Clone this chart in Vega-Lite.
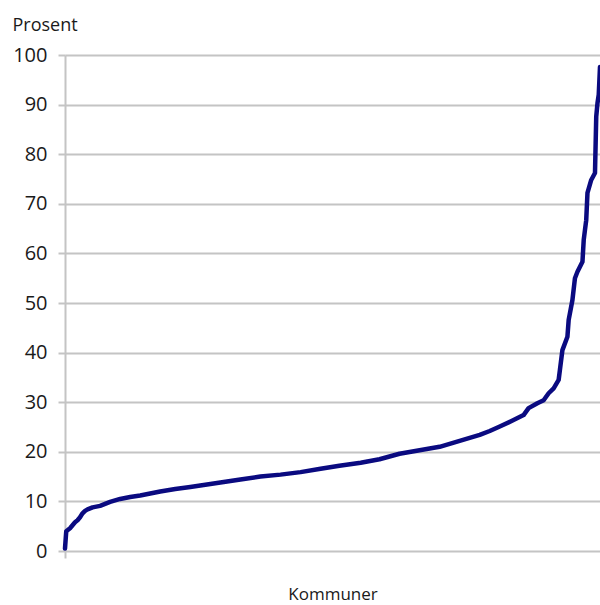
{
  "$schema": "https://vega.github.io/schema/vega-lite/v6.json",
  "autosize": "none",
  "padding": {"left": 65, "top": 55, "right": 0, "bottom": 54},
  "width": 535,
  "height": 496,
  "background": "white",
  "config": {
    "view": {"stroke": null},
    "font": "Open Sans"
  },
  "data": {
    "values": [
      {"rank": 1, "prosent": 0.5},
      {"rank": 2, "prosent": 4.0},
      {"rank": 3, "prosent": 4.2},
      {"rank": 5, "prosent": 4.6},
      {"rank": 7, "prosent": 5.2},
      {"rank": 9, "prosent": 5.8},
      {"rank": 11, "prosent": 6.2},
      {"rank": 13, "prosent": 6.8},
      {"rank": 15, "prosent": 7.6},
      {"rank": 17, "prosent": 8.1},
      {"rank": 19, "prosent": 8.4},
      {"rank": 23, "prosent": 8.8},
      {"rank": 29, "prosent": 9.1},
      {"rank": 37, "prosent": 9.9},
      {"rank": 45, "prosent": 10.5},
      {"rank": 53, "prosent": 10.9},
      {"rank": 61, "prosent": 11.2},
      {"rank": 69, "prosent": 11.6},
      {"rank": 77, "prosent": 12.0},
      {"rank": 89, "prosent": 12.5},
      {"rank": 101, "prosent": 12.9},
      {"rank": 109, "prosent": 13.2},
      {"rank": 125, "prosent": 13.8},
      {"rank": 141, "prosent": 14.4},
      {"rank": 157, "prosent": 15.0},
      {"rank": 173, "prosent": 15.4},
      {"rank": 189, "prosent": 15.9},
      {"rank": 205, "prosent": 16.6},
      {"rank": 220, "prosent": 17.2},
      {"rank": 237, "prosent": 17.8},
      {"rank": 252, "prosent": 18.5},
      {"rank": 268, "prosent": 19.6},
      {"rank": 284, "prosent": 20.3},
      {"rank": 300, "prosent": 21.0},
      {"rank": 316, "prosent": 22.2},
      {"rank": 332, "prosent": 23.4},
      {"rank": 340, "prosent": 24.2},
      {"rank": 348, "prosent": 25.1},
      {"rank": 359, "prosent": 26.4},
      {"rank": 367, "prosent": 27.4},
      {"rank": 371, "prosent": 28.8},
      {"rank": 378, "prosent": 29.8},
      {"rank": 383, "prosent": 30.4},
      {"rank": 387, "prosent": 31.8},
      {"rank": 391, "prosent": 32.8},
      {"rank": 395, "prosent": 34.5},
      {"rank": 396, "prosent": 36.5},
      {"rank": 398, "prosent": 40.5},
      {"rank": 402, "prosent": 43.2},
      {"rank": 403, "prosent": 46.6},
      {"rank": 406, "prosent": 50.6},
      {"rank": 408, "prosent": 55.0},
      {"rank": 410, "prosent": 56.3},
      {"rank": 414, "prosent": 58.3},
      {"rank": 415, "prosent": 62.7},
      {"rank": 416, "prosent": 64.7},
      {"rank": 417, "prosent": 66.7},
      {"rank": 418, "prosent": 72.2},
      {"rank": 421, "prosent": 74.8},
      {"rank": 424, "prosent": 76.2},
      {"rank": 425, "prosent": 87.6},
      {"rank": 426, "prosent": 90.3},
      {"rank": 427, "prosent": 92.0},
      {"rank": 428, "prosent": 97.6}
    ]
  },
  "mark": {"type": "line", "color": "#0a0a80", "strokeWidth": 4.5, "strokeJoin": "round", "strokeCap": "round"},
  "encoding": {
    "x": {
      "field": "rank",
      "type": "quantitative",
      "scale": {"domain": [1, 428], "nice": false, "zero": false},
      "axis": {
        "title": "Kommuner",
        "titleFont": "Open Sans",
        "titleFontSize": 17,
        "titleFontWeight": "normal",
        "titleColor": "#1a1a1a",
        "titlePadding": 27,
        "values": [1],
        "labels": false,
        "grid": false,
        "domain": false,
        "tickColor": "#c4c4c4",
        "tickWidth": 2,
        "tickSize": 7
      }
    },
    "y": {
      "field": "prosent",
      "type": "quantitative",
      "scale": {"domain": [0, 100], "nice": false},
      "axis": {
        "title": "Prosent",
        "titleAngle": 0,
        "titleAlign": "left",
        "titleBaseline": "middle",
        "titleX": -53,
        "titleY": -30,
        "titleFont": "Open Sans",
        "titleFontSize": 18,
        "titleFontWeight": "normal",
        "titleColor": "#1a1a1a",
        "values": [0, 10, 20, 30, 40, 50, 60, 70, 80, 90, 100],
        "labelFont": "Open Sans",
        "labelFontSize": 20,
        "labelColor": "#1a1a1a",
        "labelPadding": 11,
        "grid": true,
        "gridColor": "#c4c4c4",
        "gridWidth": 2,
        "domain": true,
        "domainColor": "#c4c4c4",
        "domainWidth": 2,
        "tickColor": "#c4c4c4",
        "tickWidth": 2,
        "tickSize": 7
      }
    }
  }
}
